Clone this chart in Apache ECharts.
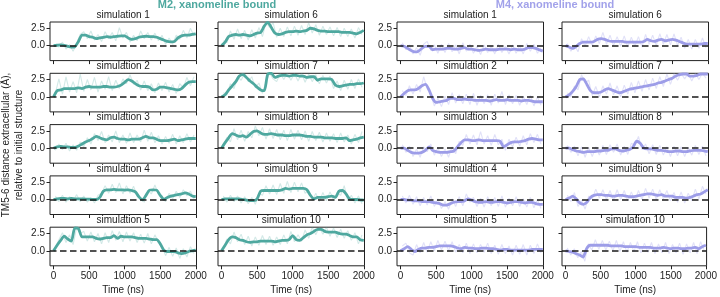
<!DOCTYPE html>
<html>
<head>
<meta charset="utf-8">
<script src="https://cdn.jsdelivr.net/npm/echarts@6/dist/echarts.min.js"></script>
<style>
  html, body { margin: 0; padding: 0; background: #fff; }
  #chart { width: 720px; height: 297px; }
</style>
</head>
<body>
<div id="chart"></div>
<script>
// time axis of the smoothed traces and of the raw (faint) traces, in ns
var times = [0,50,100,150,200,250,300,350,400,450,500,550,600,650,700,750,800,850,900,950,1000,
  1050,1100,1150,1200,1250,1300,1350,1400,1450,1500,1550,1600,1650,1700,1750,1800,1850,1900,1950,2000];
var rawTimes = [25,75,125,175,225,275,325,375,425,475,525,575,625,675,725,775,825,875,925,975,
  1025,1075,1125,1175,1225,1275,1325,1375,1425,1475,1525,1575,1625,1675,1725,1775,1825,1875,1925,1975];
var xTicks = [0, 500, 1000, 1500, 2000];
var yTicks = [0, 2.5];

// M2, xanomeline bound - smoothed
var m2Smooth1 = [0,0.05,0.1,0.05,-0.1,-0.2,-0.15,0.6,1.5,1.5,1.3,1.2,1.0,1.1,1.2,1.3,1.2,1.3,1.35,1.4,1.4,1.1,0.9,1.0,1.2,1.3,1.35,1.3,1.3,1.2,1.0,0.8,0.6,0.55,0.6,1.1,1.4,1.5,1.5,1.6,1.7];
var m2Smooth2 = [0,0.9,1.0,1.2,1.2,1.2,1.2,1.3,1.2,1.4,1.5,1.4,1.4,1.4,1.5,1.5,1.4,1.4,1.5,1.7,2.1,2.5,2.3,1.9,1.6,1.5,1.5,1.4,1.0,1.1,1.4,1.4,1.3,1.2,1.1,1.0,1.2,1.7,2.1,2.2,2.2];
var m2Smooth3 = [0,0.2,0.25,0.2,0.2,0.1,0.1,0.3,0.6,0.9,1.1,1.4,1.7,1.5,1.3,1.2,1.5,1.6,1.4,1.3,1.3,1.2,1.3,1.3,1.3,1.5,1.7,1.5,1.5,1.3,1.1,1.1,1.1,1.2,1.3,1.1,1.2,1.3,1.4,1.4,1.4];
var m2Smooth4 = [0,0.1,0.15,0.15,0.1,0.15,0.1,0.1,0.1,0.05,0.05,0,0,0.3,1.2,1.4,1.4,1.45,1.4,1.4,1.35,1.4,1.3,1.1,0.4,-0.05,0.6,1.35,1.4,1.35,0.6,0.05,0.3,0.5,0.6,0.7,0.8,0.95,0.8,0.5,0.4];
var m2Smooth5 = [0,0.8,1.5,2.1,1.7,1.4,3.3,3.2,2.0,2.0,2.0,2.0,1.8,1.7,1.8,1.9,1.9,2.2,1.8,2.1,2.0,2.0,2.0,1.9,1.8,1.8,1.8,1.7,1.6,1.6,1.0,0.1,-0.1,-0.1,-0.1,-0.3,-0.4,-0.3,-0.1,0,0.1];
var m2Smooth6 = [0,0.5,1.3,1.5,1.6,1.5,1.6,1.5,1.4,1.6,1.8,1.9,2.8,3.35,2.6,1.8,1.6,1.7,1.9,2.0,2.0,2.1,2.0,2.1,2.2,2.5,2.4,2.2,2.1,2.1,2.0,2.0,2.0,2.0,1.9,1.9,1.9,1.8,1.7,1.9,2.2];
var m2Smooth7 = [0,0.3,1.0,1.6,2.2,3.0,3.2,2.8,2.3,1.9,1.4,1.0,0.9,3.3,3.4,2.8,3.0,3.1,3.1,3.0,3.1,3.1,3.0,3.0,2.8,2.9,2.9,2.4,2.6,2.6,2.6,2.5,1.7,1.5,1.6,1.7,1.8,1.8,1.9,1.9,2.0];
var m2Smooth8 = [0,0.8,1.5,2.1,1.9,1.7,1.8,1.6,2.0,2.4,2.5,2.2,2.0,2.0,2.1,2.0,1.9,1.9,1.8,1.8,1.9,1.9,1.9,1.8,1.7,1.7,1.6,1.6,1.6,1.5,1.5,1.5,1.4,1.4,1.4,1.5,1.1,1.2,1.3,1.5,1.6];
var m2Smooth9 = [0,0.1,0.1,0.1,0.1,0.1,0,-0.1,-0.15,-0.15,0.1,1.2,1.3,1.3,1.3,1.3,1.3,1.4,1.6,1.5,1.6,1.6,1.6,1.6,1.4,0.6,0.1,0.3,0.3,0.3,0.4,0.5,0.3,1.2,1.3,0.8,0.1,0,0,-0.05,-0.1];
var m2Smooth10 = [0,0.8,1.6,2.0,1.9,1.6,1.5,1.3,1.2,1.3,1.3,1.4,1.4,1.4,1.4,1.3,1.4,1.5,1.5,1.6,2.2,1.6,1.5,1.9,2.3,2.5,2.8,3.1,3.1,2.8,2.7,2.7,2.7,2.5,2.4,2.4,2.2,2.0,2.0,1.6,1.5];

// M2, xanomeline bound - raw
var m2Raw1 = [0.2,-0.2,0.5,-0.5,0.15,-0.8,0.3,1.6,2.0,1.0,2.1,0.8,1.6,0.6,2.0,1.0,1.9,0.7,2.6,1.1,1.9,0.5,1.5,0.7,2.1,1.0,1.9,0.8,1.8,0.7,1.5,0.2,1.1,0.2,1.5,0.9,2.2,1.1,2.5,1.4];
var m2Raw2 = [0.5,2.6,0.4,2.9,0.7,2.2,0.6,3.3,0.8,2.5,1.0,2.8,0.7,2.3,1.1,2.9,0.9,2.4,1.2,2.6,1.9,3.2,1.8,2.4,1.0,2.3,0.9,1.9,0.6,2.0,0.9,2.1,0.7,1.8,0.5,1.9,1.3,2.8,1.6,2.9];
var m2Raw3 = [-0.3,0.6,-0.2,0.7,-0.4,0.5,-0.3,0.9,0.2,1.5,0.6,2.1,1.1,2.4,0.8,1.9,0.9,2.5,0.8,1.9,0.7,2.2,0.8,1.9,0.9,2.6,1.0,2.3,0.8,1.8,0.6,1.7,0.7,2.0,0.6,1.8,0.8,2.1,0.9,1.9];
var m2Raw4 = [0.5,-0.3,0.6,-0.4,0.4,-0.2,0.7,-0.3,0.5,-0.4,0.3,-0.5,0.6,0.9,2.0,0.9,2.2,1.0,2.4,0.8,2.0,0.9,1.9,0.5,0.3,-0.4,1.3,0.8,2.1,0.7,0.5,-0.3,0.9,0.1,1.2,0.3,1.4,0.5,1.2,0.1];
var m2Raw5 = [0.5,1.6,2.6,1.2,2.3,0.9,3.4,2.5,2.8,1.4,2.7,1.3,2.5,1.0,2.6,1.2,2.9,1.5,2.8,1.3,2.7,1.4,2.6,1.2,2.4,1.1,2.5,1.0,2.3,1.2,0.6,-0.7,0.5,-0.8,0.4,-1.1,0.3,-0.9,0.6,-0.4];
var m2Raw6 = [0.7,0.4,2.1,0.9,2.4,1.0,2.2,0.8,2.3,1.1,2.6,1.3,3.4,2.6,3.3,1.2,2.5,1.3,2.7,1.4,2.8,1.5,2.9,1.6,3.3,1.8,3.0,1.5,2.8,1.6,2.7,1.4,2.6,1.3,2.5,1.3,2.4,1.1,2.6,1.6];
var m2Raw7 = [0.6,0.3,1.9,1.2,2.9,2.4,3.4,2.2,2.9,1.3,2.0,0.5,2.1,3.4,2.6,2.2,3.4,2.5,3.4,2.4,3.4,2.3,3.4,2.1,3.3,2.2,3.2,1.9,3.1,2.0,3.0,1.2,2.3,0.9,2.4,1.1,2.5,1.2,2.6,1.4];
var m2Raw8 = [0.3,1.6,0.9,2.8,1.2,2.6,1.0,2.4,1.5,3.2,1.8,3.0,1.3,2.8,1.4,2.7,1.2,2.6,1.1,2.7,1.3,2.6,1.2,2.5,1.0,2.4,1.1,2.3,0.9,2.2,1.0,2.1,0.8,2.2,0.9,1.9,0.6,2.0,0.8,2.4];
var m2Raw9 = [0.5,-0.4,0.6,-0.3,0.5,-0.5,0.4,-0.6,0.3,-0.7,0.9,0.6,2.0,0.8,2.1,0.7,2.3,0.9,2.6,1.0,2.5,1.1,2.4,0.9,1.3,-0.2,0.9,-0.3,1.0,-0.2,1.1,-0.1,1.0,0.6,2.0,-0.2,0.6,-0.5,0.5,-0.6];
var m2Raw10 = [0.4,1.7,1.0,2.7,1.3,2.4,0.9,2.1,0.7,2.0,0.8,2.2,0.9,2.1,0.8,2.0,0.9,2.3,1.0,2.8,1.3,2.3,1.4,3.0,1.8,3.4,2.3,3.4,2.4,3.4,2.1,3.3,1.9,3.1,1.8,2.9,1.5,2.6,1.0,2.3];

// M4, xanomeline bound - smoothed
var m4Smooth1 = [0,-0.1,-0.4,-0.7,-0.9,-0.8,-0.4,-0.1,-0.1,-0.6,-0.5,-0.5,-0.5,-0.4,-0.4,-0.5,-0.5,-0.4,-0.3,-0.5,-0.5,-0.6,-0.7,-0.6,-0.5,-0.6,-0.6,-0.6,-0.5,-0.5,-0.5,-0.6,-0.5,-0.6,-0.6,-0.5,-0.3,-0.3,-0.4,-0.6,-0.8];
var m4Smooth2 = [0,0.5,0.9,1.0,1.0,1.2,1.6,1.8,1.0,-0.2,-0.8,-0.7,-0.6,-0.5,-0.2,-0.2,-0.4,-0.4,-0.3,-0.4,-0.4,-0.5,-0.5,-0.5,-0.5,-0.6,-0.5,-0.4,-0.5,-0.5,-0.4,-0.5,-0.5,-0.5,-0.6,-0.5,-0.5,-0.6,-0.7,-0.7,-0.7];
var m4Smooth3 = [0,0,-0.3,-0.6,-0.7,-0.7,-0.6,-0.3,0.2,-0.3,-0.5,-0.6,-0.6,-0.6,-0.5,-0.4,0.2,0.8,1.2,1.2,1.1,1.1,1.2,1.1,1.1,1.1,1.1,1.1,1.0,0.2,0.5,0.8,0.9,0.9,1.0,1.1,1.3,1.4,1.3,1.2,1.2];
var m4Smooth4 = [0,0,-0.1,-0.1,-0.2,-0.2,-0.3,-0.3,-0.3,-0.4,-0.5,-0.6,-0.8,-0.8,-0.6,-0.4,-0.3,-0.3,-0.2,0.1,-0.1,-0.3,-0.4,-0.4,-0.3,-0.4,-0.4,-0.3,-0.3,-0.4,-0.5,-0.4,-0.3,-0.3,-0.4,-0.5,-0.4,-0.4,-0.6,-0.7,-0.7];
var m4Smooth5 = [0,0.3,0.6,0.2,-0.1,0.2,0.4,0.4,0.5,0.5,0.6,0.7,0.7,0.7,0.7,0.6,0.4,0.3,0.5,0.4,0.4,0.3,0.3,0.4,0.4,0.3,0.3,0.2,0.1,0.2,0.2,0.1,0.1,0.1,0.1,0.1,0.1,0.2,0.2,0.2,0.2];
var m4Smooth6 = [0,-0.2,-0.4,-0.1,0.3,0.5,0.5,0.5,0.6,0.9,1.0,0.9,0.7,0.6,0.6,0.6,0.6,0.5,0.5,0.5,0.5,0.5,0.6,0.9,0.7,0.6,0.8,0.9,0.7,0.8,0.9,0.8,0.6,0.4,0.2,0.2,0.2,0.2,0.2,0.3,0.3];
var m4Smooth7 = [0,0.3,0.8,1.5,2.5,2.6,1.8,0.9,0.6,0.6,0.7,1.0,1.2,1.0,0.8,0.6,0.7,0.9,1.1,1.2,1.3,1.4,1.5,1.6,1.7,1.8,2.0,2.1,2.3,2.5,2.7,3.0,3.2,3.3,3.3,3.0,3.0,3.1,3.3,3.3,3.3];
var m4Smooth8 = [0,0,-0.2,-0.4,-0.5,-0.6,-0.5,-0.5,-0.5,-0.4,-0.4,-0.3,-0.3,-0.1,-0.1,-0.3,-0.4,-0.3,-0.2,0.2,1.0,0.7,0,-0.1,-0.1,-0.2,-0.3,-0.3,-0.4,-0.5,-0.5,-0.4,-0.4,-0.5,-0.5,-0.4,-0.3,-0.3,-0.3,-0.4,-0.5];
var m4Smooth9 = [0,0.2,0.5,0.1,-0.5,-0.7,-0.4,0.3,0.6,0.7,0.7,0.6,0.6,0.5,0.5,0.6,0.6,0.5,0.4,0.4,0.5,0.6,0.7,0.8,0.8,0.7,0.6,0.7,0.5,0.5,0.5,0.3,0.3,0.3,0.2,0.3,0.5,0.7,0.8,1.1,1.4];
var m4Smooth10 = [0,-0.1,-0.2,-0.4,-0.6,-0.9,0.3,0.8,0.8,0.8,0.8,0.8,0.8,0.7,0.7,0.7,0.7,0.6,0.6,0.6,0.6,0.5,0.5,0.5,0.5,0.4,0.4,0.4,0.5,0.4,0.3,0.4,0.4,0.3,0.3,0.4,0.4,0.5,0.3,0.6,0.8];

// M4, xanomeline bound - raw
var m4Raw1 = [0.4,-0.6,0.1,-1.2,-0.3,-1.4,0.2,0.6,-0.7,0.1,-1.1,0.2,-1.0,0.3,-0.9,0.1,-1.2,0.4,-0.8,0.2,-1.1,-0.1,-1.3,0.1,-1.0,-0.1,-1.2,0.2,-1.0,-0.1,-1.2,0.1,-1.1,0,-1.2,0.3,-0.8,0.2,-1.1,-0.3];
var m4Raw2 = [0.9,0.2,1.6,0.4,1.8,0.7,2.9,1.2,0.3,-1.3,-0.2,-1.4,0.1,-1.1,0.6,-0.9,0.3,-1.0,0.4,-1.1,0.5,-1.2,0.2,-1.0,0.3,-1.2,0.4,-0.9,0.8,-1.1,0.3,-1.0,0.2,-1.2,0.1,-1.1,0.2,-1.3,0,-1.2];
var m4Raw3 = [0.5,-0.6,0.3,-1.2,-0.1,-1.3,0.2,-0.5,0.6,-1.0,0.1,-1.2,-0.1,-1.3,0.2,-0.8,1.0,0.4,2.0,0.6,1.9,0.5,2.4,0.6,1.8,0.4,2.0,0.5,1.3,-0.3,1.3,0.2,1.6,0.3,1.8,0.5,2.1,0.8,2.0,0.6];
var m4Raw4 = [0.5,-0.5,0.6,-0.7,0.4,-0.9,0.3,-0.8,0.5,-1.0,0.1,-1.3,-0.3,-1.4,0.1,-1.0,0.4,-0.9,0.8,-0.4,0.3,-1.0,0.2,-1.1,0.4,-0.9,0.3,-1.0,0.5,-1.1,0.2,-0.9,0.4,-1.0,0.1,-1.1,0.3,-1.2,0,-1.3];
var m4Raw5 = [0.7,1.1,-0.3,-0.6,0.9,-0.3,1.2,-0.2,1.3,0,1.5,0.1,1.4,0,1.3,-0.2,0.9,-0.3,1.1,-0.4,1.0,-0.3,0.9,-0.2,1.1,-0.4,0.8,-0.5,0.9,-0.4,0.7,-0.6,0.8,-0.5,0.9,-0.6,0.8,-0.4,1.0,-0.3];
var m4Raw6 = [0.3,-0.8,0.1,-0.9,1.0,-0.1,1.3,0,1.4,0.3,1.9,0.2,1.5,0,1.3,-0.1,1.4,-0.2,1.2,-0.1,1.3,-0.2,1.6,0.2,1.5,0,1.7,0.2,1.6,0.1,1.7,0,1.2,-0.4,0.9,-0.5,0.9,-0.4,1.1,-0.3];
var m4Raw7 = [0.6,0,1.6,1.0,3.2,2.0,2.4,0.2,1.5,0,1.6,0.4,2.0,0.3,1.6,0,1.7,0.4,2.1,0.6,2.3,0.8,2.5,1.0,2.7,1.2,2.9,1.5,3.3,1.8,3.4,2.4,3.4,2.6,3.4,2.3,3.4,2.5,3.4,2.7];
var m4Raw8 = [0.4,-0.6,0.3,-1.1,0.2,-1.3,0.1,-1.2,0.2,-1.0,0.4,-0.9,0.5,-0.6,0.6,-1.0,0.3,-0.9,0.7,0.4,1.7,-0.2,0.6,-0.8,0.5,-0.9,0.4,-1.0,0.2,-1.2,0.3,-1.1,0.2,-1.2,0.1,-1.0,0.4,-0.9,0.3,-1.1];
var m4Raw9 = [0.6,-0.3,1.0,-1.0,-0.1,-1.4,0.5,0.1,1.5,0.2,1.4,0,1.3,-0.1,1.4,0,1.3,-0.2,1.1,-0.2,1.3,0,1.6,0.2,1.5,0,1.4,0.1,1.3,-0.2,1.0,-0.4,1.1,-0.5,0.9,-0.2,1.5,0.1,1.9,0.8];
var m4Raw10 = [0.4,-0.6,0.3,-1.0,-0.1,-1.5,1.0,0.1,1.6,0.2,1.5,0.1,1.4,0,1.5,-0.1,1.3,-0.2,1.2,-0.1,1.3,-0.3,1.1,-0.2,1.2,-0.4,1.0,-0.3,1.2,-0.4,0.9,-0.3,1.1,-0.5,1.0,-0.3,1.2,-0.4,1.3,0.1];

var m2Smooth = [m2Smooth1, m2Smooth2, m2Smooth3, m2Smooth4, m2Smooth5, m2Smooth6, m2Smooth7, m2Smooth8, m2Smooth9, m2Smooth10];
var m2Raw = [m2Raw1, m2Raw2, m2Raw3, m2Raw4, m2Raw5, m2Raw6, m2Raw7, m2Raw8, m2Raw9, m2Raw10];
var m4Smooth = [m4Smooth1, m4Smooth2, m4Smooth3, m4Smooth4, m4Smooth5, m4Smooth6, m4Smooth7, m4Smooth8, m4Smooth9, m4Smooth10];
var m4Raw = [m4Raw1, m4Raw2, m4Raw3, m4Raw4, m4Raw5, m4Raw6, m4Raw7, m4Raw8, m4Raw9, m4Raw10];

var M2_COLOR = '#4ea89f';
var M4_COLOR = '#9d9de8';
var FONT = '"Liberation Sans", Arial, sans-serif';

var colLeft = [50, 218, 397, 562];
var rowTop = [22, 73.3, 124.6, 175.9, 227.2];
var W = 146.5, H = 38.6;

function pairs(xs, ys) {
    return xs.map(function (x, i) { return [x, ys[i]]; });
}

function text(str, x, y, opts) {
    opts = opts || {};
    return {
        type: 'text',
        x: x, y: y,
        rotation: opts.rotation || 0,
        silent: true,
        style: {
            text: str,
            x: 0, y: 0,
            fill: opts.color || '#222',
            font: (opts.weight || 'normal') + ' ' + (opts.size || 10) + 'px ' + FONT,
            textAlign: 'center', textVerticalAlign: 'middle',
            align: 'center', verticalAlign: 'middle'
        }
    };
}

function tickLabel(show, values, fmt) {
    if (!show) {
        return { show: false };
    }
    return { show: true, customValues: values, color: '#222', fontSize: 10, fontFamily: FONT, margin: 5, formatter: fmt };
}

var grids = [], xAxes = [], yAxes = [], series = [], graphics = [];

for (var c = 0; c < 4; c++) {
    for (var r = 0; r < 5; r++) {
        var i = grids.length;
        var sim = (c % 2) * 5 + r;
        var isM2 = c < 2;
        var color = isM2 ? M2_COLOR : M4_COLOR;
        var smooth = isM2 ? m2Smooth[sim] : m4Smooth[sim];
        var raw = isM2 ? m2Raw[sim] : m4Raw[sim];
        var showX = r === 4;
        var showY = c % 2 === 0;

        grids.push({
            left: colLeft[c], top: rowTop[r], width: W, height: H,
            show: true, borderColor: '#222', borderWidth: 1, backgroundColor: 'transparent'
        });
        xAxes.push({
            type: 'value', gridIndex: i, min: -50, max: 2010,
            axisLine: { show: false, onZero: false },
            splitLine: { show: false },
            axisTick: { show: true, length: 3.5, customValues: xTicks, lineStyle: { color: '#222', width: 1 } },
            axisLabel: tickLabel(showX, xTicks, function (v) { return String(v); })
        });
        yAxes.push({
            type: 'value', gridIndex: i, min: -2.16, max: 3.4,
            axisLine: { show: false, onZero: false },
            splitLine: { show: false },
            axisTick: { show: true, length: 3.5, customValues: yTicks, lineStyle: { color: '#222', width: 1 } },
            axisLabel: tickLabel(showY, yTicks, function (v) { return v.toFixed(1); })
        });
        series.push({
            type: 'line', xAxisIndex: i, yAxisIndex: i,
            data: pairs(rawTimes, raw),
            symbol: 'none', silent: true, z: 1,
            lineStyle: { color: color, width: 1.1, opacity: isM2 ? 0.25 : 0.3 }
        });
        series.push({
            type: 'line', xAxisIndex: i, yAxisIndex: i,
            data: pairs(times, smooth),
            symbol: 'none', silent: true, z: 3, smooth: 0.25,
            lineStyle: { color: color, width: 2.8 },
            markLine: {
                silent: true, symbol: 'none', label: { show: false },
                lineStyle: { color: '#1a1a1a', width: 1.5, type: [6.5, 3.5] },
                data: [{ yAxis: 0 }]
            }
        });

        graphics.push(text('simulation ' + (sim + 1), colLeft[c] + W / 2, rowTop[r] - 7));
        if (showX) {
            graphics.push(text('Time (ns)', colLeft[c] + W / 2, 290));
        }
    }
}

graphics.push(text('M2, xanomeline bound', 217, 5, { color: M2_COLOR, weight: 'bold', size: 11 }));
graphics.push(text('M4, xanomeline bound', 555, 5, { color: '#a2a2ea', weight: 'bold', size: 11 }));
graphics.push(text('TM5-6 distance extracellular (\u00c5),', 6, 145, { rotation: Math.PI / 2 }));
graphics.push(text('relative to initial structure', 19, 145, { rotation: Math.PI / 2 }));

var myChart = echarts.init(document.getElementById('chart'), null, { renderer: 'canvas' });
myChart.setOption({
    animation: false,
    backgroundColor: '#fff',
    grid: grids,
    xAxis: xAxes,
    yAxis: yAxes,
    series: series,
    graphic: graphics
});
</script>
</body>
</html>
